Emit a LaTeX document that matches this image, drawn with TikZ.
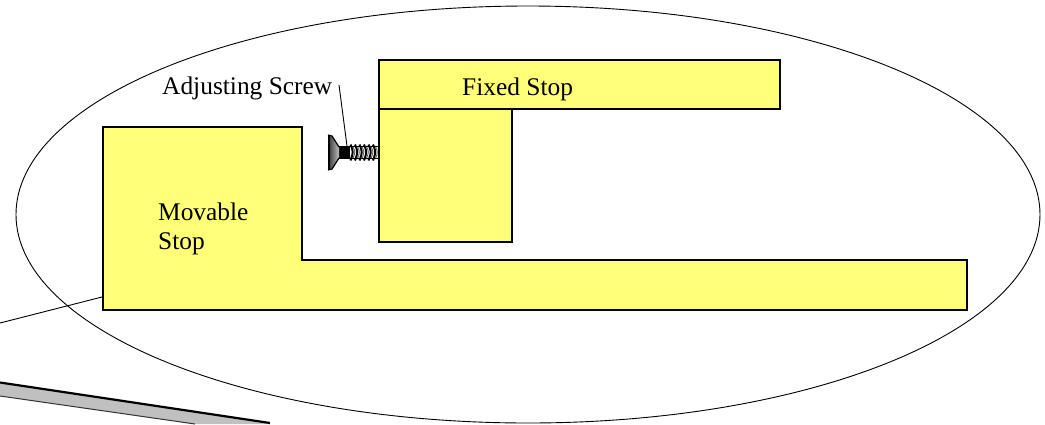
\documentclass[tikz,border=0pt]{standalone}
\usepackage{fontspec}
\setmainfont{Liberation Serif}
\definecolor{stopyellow}{HTML}{FFFF78}
\definecolor{bargray}{HTML}{C0C0C0}
\begin{document}
\begin{tikzpicture}[x=1pt,y=-1pt,
  stopbox/.style={draw=black,line width=2.8pt,fill=stopyellow,line join=miter},
  thin line/.style={draw=black,line width=0.9pt},
  label/.style={inner sep=0pt,font=\fontsize{25.4}{29}\selectfont,align=left,anchor=west}]
\useasboundingbox (0,0) rectangle (1045,424);
\fill[white] (0,0) rectangle (1045,424);
% ellipse
\draw[thin line] (528,214.5) ellipse [x radius=512, y radius=208.5];
% grey bar
\coordinate (barA) at (0,382.5);
\coordinate (barB) at (270,423);
\coordinate (barC) at (195,424);
\coordinate (barD) at (0,396);
\fill[bargray] (barA) -- (barB) -- (270,424) -- (barC) -- (barD) -- cycle;
\draw[black,line width=2.2pt] (barA) -- (barB);
\draw[black!80,line width=1pt] (barD) -- (barC);
% movable stop
\draw[stopbox] (103,127) -- (302,127) -- (302,260) -- (967,260) -- (967,310) -- (103,310) -- cycle;
% fixed stop
\draw[stopbox] (379,109) rectangle (512,242);
\draw[stopbox] (379,60) rectangle (780,109);
% leaders
\coordinate (leadA) at (0,323);
\coordinate (leadB) at (102,297);
\draw[thin line] (leadA) -- (leadB);
\coordinate (scrA) at (339,85);
\coordinate (scrB) at (347,146);
% screw threads
\fill[black] (338,146) rectangle (350,159);
\foreach \i in {0,...,5}{
  \draw[black,line width=2pt] ({350.5+\i*4.5},144.5) .. controls ({353.5+\i*4.5},152) .. ({350.5+\i*4.5},160.5);
  \draw[black!60,line width=0.9pt] ({352.8+\i*4.5},146) .. controls ({355.5+\i*4.5},152) .. ({352.8+\i*4.5},159);
}
\draw[black,line width=1.2pt] (340,146.5) -- (378,146.5);
\draw[black,line width=1.2pt] (340,158.5) -- (378,158.5);
% screw head
\shade[left color=black!80,right color=black!25] (328,135) -- (332,136) -- (339,147) -- (339,158) -- (332,169) -- (328,170) -- cycle;
\draw[black,line width=1.2pt] (328,135) -- (332,136) -- (339,147) (339,158) -- (332,169) -- (328,170);
\draw[black,line width=2.2pt] (329,135) -- (329,170);
\draw[thin line] (scrA) -- (scrB);
% labels
\node[label] (fixed) at (462,89) {Fixed Stop};
\node[label] (adj) at (162,88) {Adjusting Screw};
\node[label] (mov) at (158,229) {Movable\\Stop};
\end{tikzpicture}
\end{document}
